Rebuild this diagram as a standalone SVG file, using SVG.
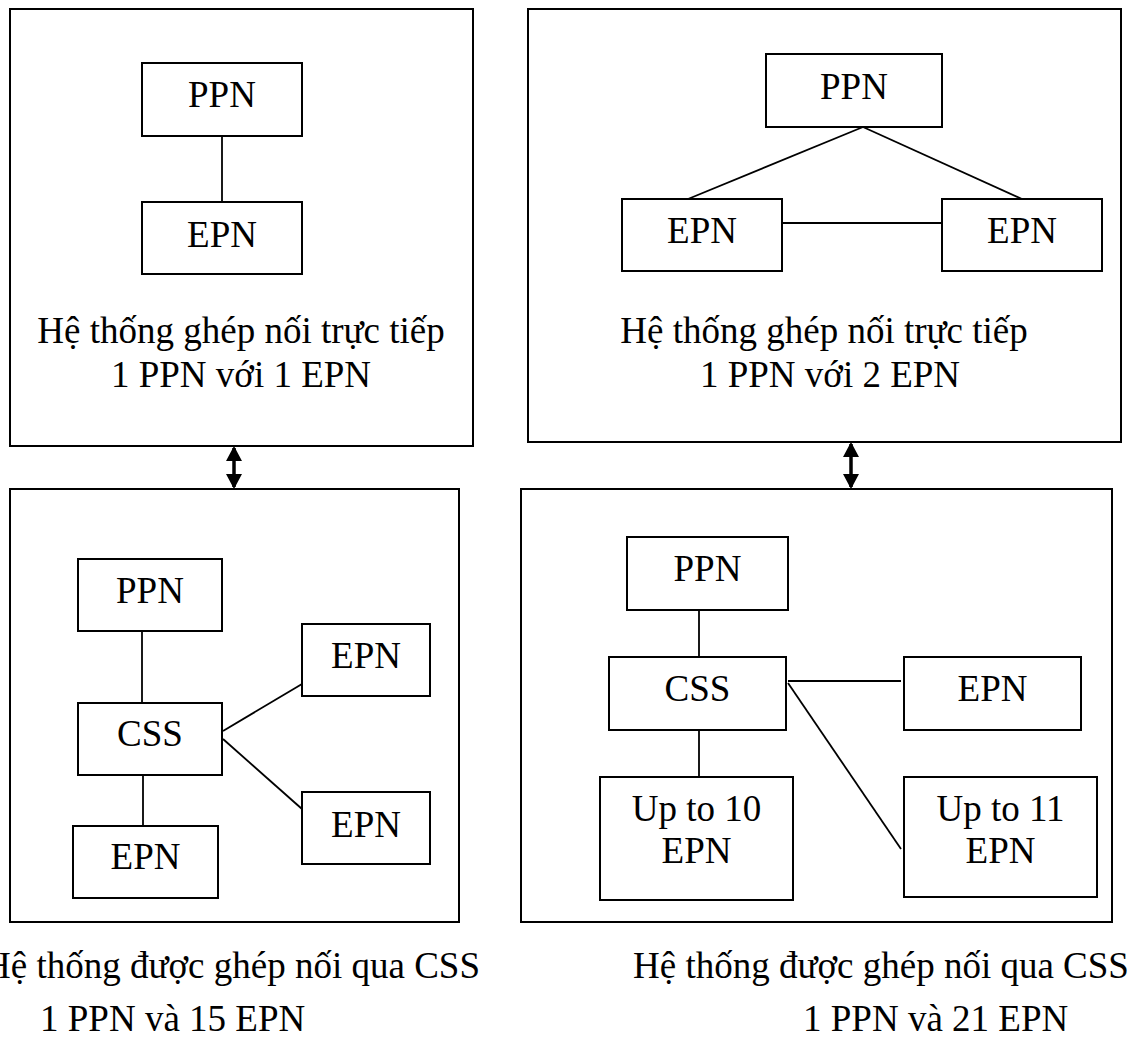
<svg xmlns="http://www.w3.org/2000/svg" width="1141" height="1037" viewBox="0 0 1141 1037">
  <style>
    .frame { fill: none; stroke: #000; stroke-width: 2; }
    .box { fill: #fff; stroke: #000; stroke-width: 2; }
    .conn { stroke: #000; stroke-width: 1.8; fill: none; }
    .arrow { stroke: #000; stroke-width: 3.5; fill: none; }
    text { font-family: "Liberation Serif", "Times New Roman", serif; font-size: 37px; fill: #000; }
    .c { text-anchor: middle; }
    .e { text-anchor: end; }
  </style>
  <defs>
    <marker id="head" viewBox="0 0 15 16" refX="13" refY="8" markerWidth="15" markerHeight="16" markerUnits="userSpaceOnUse" orient="auto-start-reverse">
      <path d="M0,0 L15,8 L0,16 Z" fill="#000"/>
    </marker>
  </defs>
  <rect width="1141" height="1037" fill="#fff"/>

  <!-- Frames with captions -->
  <g id="frame-direct-1">
    <rect class="frame" x="10" y="9" width="463" height="437"/>
    <text class="c" x="241" y="343">Hệ thống ghép nối trực tiếp</text>
    <text class="c" x="241" y="387">1 PPN với 1 EPN</text>
  </g>
  <g id="frame-direct-2">
    <rect class="frame" x="528" y="9" width="593" height="433"/>
    <text class="c" x="824" y="343">Hệ thống ghép nối trực tiếp</text>
    <text class="c" x="830" y="387">1 PPN với 2 EPN</text>
  </g>
  <g id="frame-css-15">
    <rect class="frame" x="10" y="489" width="449" height="433"/>
    <text class="e" x="480" y="978">Hệ thống được ghép nối qua CSS</text>
    <text x="40" y="1031">1 PPN và 15 EPN</text>
  </g>
  <g id="frame-css-21">
    <rect class="frame" x="521" y="489" width="591" height="433"/>
    <text x="633" y="978">Hệ thống được ghép nối qua CSS</text>
    <text x="803" y="1031">1 PPN và 21 EPN</text>
  </g>

  <!-- Connectors -->
  <g id="connectors">
    <line class="conn" x1="222" y1="136" x2="222" y2="202"/>
    <line class="conn" x1="863" y1="127" x2="688" y2="199"/>
    <line class="conn" x1="863" y1="127" x2="1022" y2="199"/>
    <line class="conn" x1="782" y1="223" x2="942" y2="223"/>
    <line class="conn" x1="142" y1="631" x2="142" y2="703"/>
    <line class="conn" x1="143" y1="775" x2="143" y2="826"/>
    <line class="conn" x1="223" y1="731" x2="302" y2="684"/>
    <line class="conn" x1="223" y1="739" x2="302" y2="809"/>
    <line class="conn" x1="699" y1="610" x2="699" y2="657"/>
    <line class="conn" x1="699" y1="730" x2="699" y2="777"/>
    <line class="conn" x1="788" y1="681" x2="901" y2="681"/>
    <line class="conn" x1="788" y1="683" x2="901" y2="849"/>
    <line class="arrow" x1="234" y1="448" x2="234" y2="487" marker-start="url(#head)" marker-end="url(#head)"/>
    <line class="arrow" x1="851" y1="444" x2="851" y2="487" marker-start="url(#head)" marker-end="url(#head)"/>
  </g>

  <!-- Nodes: top-left -->
  <g id="a-ppn"><rect class="box" x="142" y="63" width="160" height="73"/><text class="c" x="222" y="107">PPN</text></g>
  <g id="a-epn"><rect class="box" x="142" y="202" width="160" height="72"/><text class="c" x="222" y="247">EPN</text></g>

  <!-- Nodes: top-right -->
  <g id="b-ppn"><rect class="box" x="766" y="54" width="176" height="73"/><text class="c" x="854" y="99">PPN</text></g>
  <g id="b-epn1"><rect class="box" x="622" y="199" width="160" height="72"/><text class="c" x="702" y="243">EPN</text></g>
  <g id="b-epn2"><rect class="box" x="942" y="199" width="160" height="72"/><text class="c" x="1022" y="243">EPN</text></g>

  <!-- Nodes: bottom-left -->
  <g id="c-ppn"><rect class="box" x="78" y="559" width="144" height="72"/><text class="c" x="150" y="603">PPN</text></g>
  <g id="c-css"><rect class="box" x="78" y="703" width="144" height="72"/><text class="c" x="150" y="746">CSS</text></g>
  <g id="c-epn1"><rect class="box" x="73" y="826" width="145" height="72"/><text class="c" x="145.5" y="869">EPN</text></g>
  <g id="c-epn2"><rect class="box" x="302" y="624" width="128" height="72"/><text class="c" x="366" y="668">EPN</text></g>
  <g id="c-epn3"><rect class="box" x="302" y="792" width="128" height="72"/><text class="c" x="366" y="837">EPN</text></g>

  <!-- Nodes: bottom-right -->
  <g id="d-ppn"><rect class="box" x="627" y="537" width="161" height="73"/><text class="c" x="707.5" y="581">PPN</text></g>
  <g id="d-css"><rect class="box" x="609" y="657" width="177" height="73"/><text class="c" x="697.5" y="701">CSS</text></g>
  <g id="d-upto10"><rect class="box" x="600" y="777" width="193" height="123"/><text class="c" x="696.5" y="821">Up to 10</text><text class="c" x="696.5" y="863">EPN</text></g>
  <g id="d-epn"><rect class="box" x="904" y="657" width="177" height="73"/><text class="c" x="992.5" y="701">EPN</text></g>
  <g id="d-upto11"><rect class="box" x="904" y="777" width="193" height="120"/><text class="c" x="1000.5" y="821">Up to 11</text><text class="c" x="1000.5" y="863">EPN</text></g>
</svg>
